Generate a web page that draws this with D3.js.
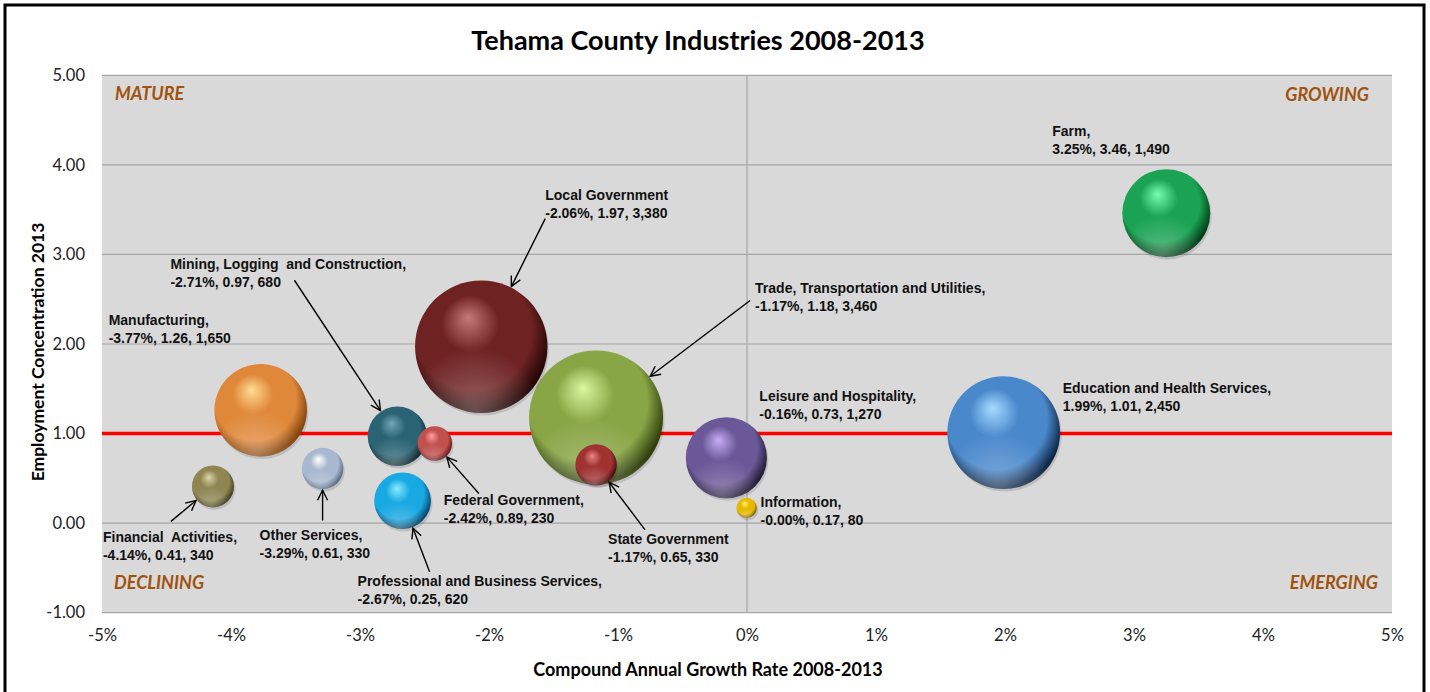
<!DOCTYPE html>
<html>
<head>
<meta charset="utf-8">
<script src="https://cdn.jsdelivr.net/npm/d3@7"></script>
<style>
    body { margin: 0; background: #fff; }
    svg { display: block; }
</style>
</head>
<body>
<div id="chart"></div>
<script>
// Industry data
const industries = ["Farm", "Education and Health Services", "Leisure and Hospitality", "Information",
    "Trade, Transportation and Utilities", "State Government", "Local Government", "Federal Government",
    "Professional and Business Services", "Mining, Logging and Construction", "Other Services",
    "Manufacturing", "Financial Activities"];
const growth = [3.25, 1.99, -0.16, -0.003, -1.17, -1.17, -2.06, -2.42, -2.67, -2.71, -3.29, -3.77, -4.14];
const concentration = [3.46, 1.01, 0.73, 0.17, 1.18, 0.65, 1.97, 0.89, 0.25, 0.97, 0.61, 1.26, 0.41];
const employment = [1490, 2450, 1270, 80, 3460, 330, 3380, 230, 620, 680, 330, 1650, 340];
const labelNames = ["Farm,", "Education and Health Services,", "Leisure and Hospitality,", "Information,",
    "Trade, Transportation and Utilities,", "State Government", "Local Government", "Federal Government,",
    "Professional and Business Services,", "Mining, Logging  and Construction,", "Other Services,",
    "Manufacturing,", "Financial  Activities,"];
const xTicks = [-5, -4, -3, -2, -1, 0, 1, 2, 3, 4, 5];
const yTicks = [-1, 0, 1, 2, 3, 4, 5];
const quadrants = ["MATURE", "GROWING", "DECLINING", "EMERGING"];

// sphere colours: [light, base, dark]
const sphereColors = [
    ["#74ffae", "#19a353", "#03401a"],
    ["#a6dcff", "#4a88cc", "#0f2747"],
    ["#c6aef4", "#6a5898", "#241c3a"],
    ["#fff27a", "#e6b800", "#7a5a00"],
    ["#dcf8a0", "#89a646", "#303f0c"],
    ["#ea8484", "#a03232", "#4a0e0e"],
    ["#c87a7a", "#6e2222", "#260707"],
    ["#ffa0a0", "#c0504d", "#6a1c1c"],
    ["#88ecff", "#18a8e2", "#08456a"],
    ["#70a6b6", "#2a6474", "#0c2830"],
    ["#ffffff", "#a8b8d0", "#5a6a84"],
    ["#ffdc94", "#e0883a", "#84440e"],
    ["#dcd4a4", "#8f8654", "#44401c"]
];

// label placement relative to bubble centre (px): [text dx, text dy, arrow start dx, dy or null]
const labelOffsets = [
    [-114, -82, null],
    [59, -45, null],
    [33, -62, null],
    [14, -6, null],
    [159, -129, [154, -117]],
    [12, 74, [49, 65]],
    [64, -152, [64, -128]],
    [9, 57, [44, 50]],
    [-45, 80, [27, 71]],
    [-227, -172, [-103, -156]],
    [-63, 67, [0, 52]],
    [-152, -90, null],
    [-110, 51, [-42, 35]]
];

const W = 1430, H = 692;
const margin = {top: 75.3, right: 38, bottom: 79.3, left: 102};
const width = W - margin.left - margin.right;
const height = H - margin.top - margin.bottom;

const svg = d3.select("#chart").append("svg")
    .attr("width", W)
    .attr("height", H);

// outer frame
svg.append("rect")
    .attr("x", 5).attr("y", 5)
    .attr("width", 1419).attr("height", 700)
    .attr("fill", "#fff")
    .attr("stroke", "#000")
    .attr("stroke-width", 3);

const defs = svg.append("defs");

defs.append("marker")
    .attr("id", "arrow")
    .attr("viewBox", "0 0 12 12")
    .attr("refX", 11).attr("refY", 6)
    .attr("markerWidth", 12).attr("markerHeight", 12)
    .attr("markerUnits", "userSpaceOnUse")
    .attr("orient", "auto")
    .append("path")
    .attr("d", "M1,1 L11,6 L1,11")
    .attr("fill", "none")
    .attr("stroke", "#000")
    .attr("stroke-width", 1.4);

sphereColors.forEach((c, i) => {
    let g = defs.append("radialGradient")
        .attr("id", "sphere" + i)
        .attr("cx", "0.45").attr("cy", "0.42").attr("r", "0.62")
        .attr("fx", "0.4").attr("fy", "0.28");
    g.append("stop").attr("offset", "0%").attr("stop-color", c[0]);
    g.append("stop").attr("offset", "35%").attr("stop-color", c[1]);
    g.append("stop").attr("offset", "72%").attr("stop-color", c[1]);
    g.append("stop").attr("offset", "93%").attr("stop-color", c[2]);
    g.append("stop").attr("offset", "100%").attr("stop-color", c[2]);
});

// soft bottom rim light
let rim = defs.append("radialGradient")
    .attr("id", "rim")
    .attr("cx", "0.45").attr("cy", "1.0").attr("r", "0.5");
rim.append("stop").attr("offset", "0%").attr("stop-color", "#fff").attr("stop-opacity", 0.3);
rim.append("stop").attr("offset", "100%").attr("stop-color", "#fff").attr("stop-opacity", 0);

const g = svg.append("g")
    .attr("transform", `translate(${margin.left},${margin.top})`);

const x = d3.scaleLinear().domain([-5, 5]).range([0, width]);
const y = d3.scaleLinear().domain([-1, 5]).range([height, 0]);
const r = d3.scaleSqrt().domain([0, 3460]).range([0, 67]);

// plot background
g.append("rect")
    .attr("width", width).attr("height", height)
    .attr("fill", "#d9d9d9");

// gridlines
g.selectAll(".hgrid")
    .data(yTicks.filter(d => d !== 1))
    .enter().append("line")
    .attr("class", "hgrid")
    .attr("x1", 0).attr("x2", width)
    .attr("y1", d => y(d)).attr("y2", d => y(d))
    .attr("stroke", "#a6a6a6").attr("stroke-width", 1.2);

g.append("line")
    .attr("x1", x(0)).attr("x2", x(0))
    .attr("y1", 0).attr("y2", height)
    .attr("stroke", "#a6a6a6").attr("stroke-width", 1.2);

// reference line at concentration 1.00
g.append("line")
    .attr("x1", 0).attr("x2", width)
    .attr("y1", y(1)).attr("y2", y(1))
    .attr("stroke", "#ff0000").attr("stroke-width", 3.5);

// axes
const yAxis = d3.axisLeft(y).tickValues(yTicks).tickSize(0).tickPadding(17)
    .tickFormat(d => d.toFixed(2));
const xAxis = d3.axisBottom(x).tickValues(xTicks).tickSize(0).tickPadding(17)
    .tickFormat(d => d + "%");

g.append("g").call(yAxis)
    .call(a => a.select(".domain").remove())
    .selectAll("text")
    .attr("font-family", "Lato, sans-serif").attr("font-size", 16.5).attr("fill", "#222");

g.append("g").attr("transform", `translate(0,${height})`).call(xAxis)
    .call(a => a.select(".domain").remove())
    .selectAll("text")
    .attr("font-family", "Lato, sans-serif").attr("font-size", 16.5).attr("fill", "#222");

// quadrant labels
const quadPos = [[13, 25, "start"], [width - 23, 26, "end"], [12, height - 24, "start"], [width - 14, height - 24, "end"]];
g.selectAll(".quad")
    .data(quadrants)
    .enter().append("text")
    .attr("class", "quad")
    .attr("x", (d, i) => quadPos[i][0])
    .attr("y", (d, i) => quadPos[i][1])
    .attr("text-anchor", (d, i) => quadPos[i][2])
    .attr("font-family", "Lato, sans-serif")
    .attr("font-size", 18).attr("font-weight", "bold").attr("font-style", "italic")
    .attr("fill", "#a0520f")
    .text(d => d);

// bubbles, biggest first so small ones sit on top
const rows = industries.map((name, i) => ({
    i: i, name: name, gx: growth[i], cy: concentration[i], emp: employment[i]
}));
const order = rows.slice().sort((a, b) => b.emp - a.emp);

const bubbles = g.selectAll(".bubble")
    .data(order)
    .enter().append("g")
    .attr("class", "bubble")
    .attr("transform", d => `translate(${x(d.gx)},${y(d.cy)})`);

bubbles.append("circle")
    .attr("r", d => r(d.emp))
    .attr("cx", 1.5).attr("cy", 2.5)
    .attr("fill", "#000").attr("opacity", 0.12);
bubbles.append("circle")
    .attr("r", d => r(d.emp))
    .attr("fill", d => `url(#sphere${d.i})`);
bubbles.append("circle")
    .attr("r", d => r(d.emp))
    .attr("fill", "url(#rim)");

// labels and arrows
const fmtInt = d3.format(",");
rows.forEach(d => {
    let cx = x(d.gx), cy = y(d.cy);
    let off = labelOffsets[d.i];
    let t = g.append("text")
        .attr("x", cx + off[0])
        .attr("y", cy + off[1] + 5)
        .attr("xml:space", "preserve")
        .attr("font-family", "Liberation Sans, Arial, sans-serif")
        .attr("font-size", 14).attr("font-weight", "bold").attr("fill", "#111");
    t.append("tspan").text(labelNames[d.i]);
    t.append("tspan")
        .attr("x", cx + off[0]).attr("dy", 18)
        .text(`${d.gx.toFixed(2)}%, ${d.cy.toFixed(2)}, ${fmtInt(d.emp)}`);

    if (off[2]) {
        let sx = cx + off[2][0], sy = cy + off[2][1];
        let ang = Math.atan2(sy - cy, sx - cx);
        let rr = r(d.emp) + 1;
        g.append("line")
            .attr("x1", sx).attr("y1", sy)
            .attr("x2", cx + rr * Math.cos(ang)).attr("y2", cy + rr * Math.sin(ang))
            .attr("stroke", "#000").attr("stroke-width", 1.4)
            .attr("marker-end", "url(#arrow)");
    }
});

// titles
svg.append("text")
    .attr("x", 698).attr("y", 50)
    .attr("text-anchor", "middle")
    .attr("font-family", "Lato, sans-serif")
    .attr("font-size", 27).attr("font-weight", "bold")
    .text("Tehama County Industries 2008-2013");

svg.append("text")
    .attr("x", 708).attr("y", 676)
    .attr("text-anchor", "middle")
    .attr("font-family", "Lato, sans-serif")
    .attr("font-size", 18).attr("font-weight", "bold")
    .text("Compound Annual Growth Rate 2008-2013");

svg.append("text")
    .attr("transform", "translate(44,352) rotate(-90)")
    .attr("text-anchor", "middle")
    .attr("font-family", "Lato, sans-serif")
    .attr("font-size", 17.5).attr("font-weight", "bold")
    .text("Employment Concentration 2013");
</script>
</body>
</html>
